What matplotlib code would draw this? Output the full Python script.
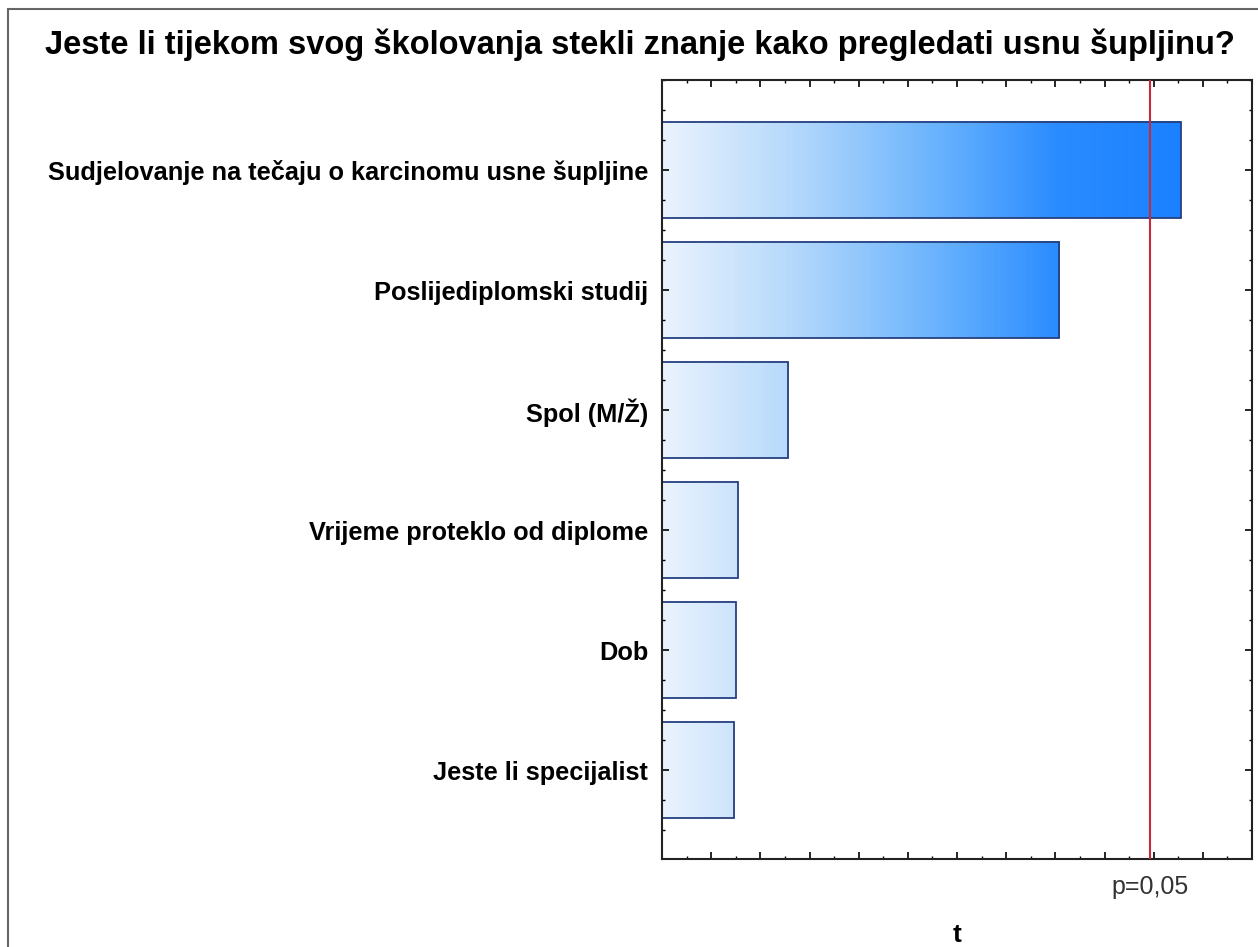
import numpy as np
import matplotlib.pyplot as plt
from matplotlib.colors import LinearSegmentedColormap
from matplotlib.patches import Rectangle
from matplotlib.ticker import MultipleLocator

plt.rcParams['font.family'] = ['Liberation Sans', 'DejaVu Sans']

# Data
title = "Jeste li tijekom svog školovanja stekli znanje kako pregledati usnu šupljinu?"
categories = [
    "Sudjelovanje na tečaju o karcinomu usne šupljine",
    "Poslijediplomski studij",
    "Spol (M/Ž)",
    "Vrijeme proteklo od diplome",
    "Dob",
    "Jeste li specijalist",
]
t_values = [2.11, 1.615, 0.513, 0.309, 0.301, 0.293]
p_line = 1.985

# Figure
fig = plt.figure(figsize=(12.58, 9.47), dpi=100)
ax = fig.add_axes([662 / 1258, 1 - 859 / 947, (1252 - 662) / 1258, (859 - 80) / 947])

cmap = LinearSegmentedColormap.from_list(
    "statblue", ["#eaf3fd", "#b4d8fb", "#6fb6fd", "#2a8cff", "#1a80ff"])
bar_h = 0.8
grad_max = 2.15

for i, (cat, val) in enumerate(zip(categories, t_values)):
    grad = np.linspace(0, val, 256).reshape(1, -1)
    ax.imshow(grad, extent=[0, val, i + bar_h / 2, i - bar_h / 2], cmap=cmap,
              vmin=0, vmax=grad_max, aspect='auto', interpolation='bilinear', zorder=1)

ax.barh(range(len(categories)), t_values, height=bar_h, facecolor='none',
        edgecolor='#27407f', linewidth=1.3, zorder=2)

ax.axvline(p_line, color='#c8283c', linewidth=1.5, zorder=3)

ax.set_xlim(0, 2.4)
ax.set_ylim(len(categories) - 0.26, -0.75)

ax.set_yticks(range(len(categories)))
ax.set_yticklabels(categories, fontsize=18.3, fontweight='bold')
ax.yaxis.set_minor_locator(MultipleLocator(0.25))
ax.xaxis.set_major_locator(MultipleLocator(0.2))
ax.xaxis.set_minor_locator(MultipleLocator(0.1))
ax.set_xticklabels([])
ax.tick_params(axis='both', which='major', direction='in', length=5, width=1.2,
               top=True, right=True, pad=10)
ax.tick_params(axis='both', which='minor', direction='in', length=2, width=1,
               top=True, right=True)
for s in ax.spines.values():
    s.set_linewidth(1.5)
    s.set_color('#222222')

ax.text(p_line, -0.02, "p=0,05", transform=ax.get_xaxis_transform(),
        ha='center', va='top', fontsize=18, color='#333333')
ax.set_xlabel("t", fontsize=19, fontweight='bold', labelpad=36)

fig.text(640 / 1258, 1 - 45 / 947, title, ha='center', va='center',
         fontsize=23.5, fontweight='bold')

# outer frame (left and top edges visible)
fig.patches.append(Rectangle((8 / 1258, -0.1), 1.2, 1 - 9 / 947 + 0.1,
                             transform=fig.transFigure, fill=False,
                             edgecolor='#666666', linewidth=1.5))

fig.savefig("out.png", dpi=100)
